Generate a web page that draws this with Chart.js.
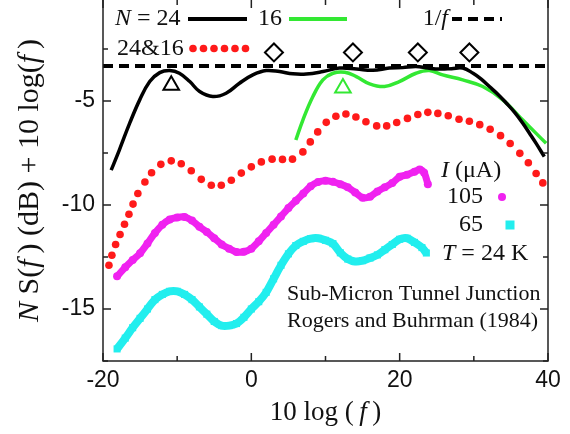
<!DOCTYPE html>
<html>
<head>
<meta charset="utf-8">
<script src="https://cdn.jsdelivr.net/npm/chart.js@4.4.1/dist/chart.umd.min.js"></script>
<style>
html, body { margin: 0; padding: 0; background: #fff; }
#c { display: block; }
</style>
</head>
<body>
<canvas id="c" width="570" height="434" style="width:570px;height:434px"></canvas>
<script>
// N = 24 curve
var xN24 = [-18.9, -17.8, -16.4, -15.05, -13.7, -12.35, -11.0, -9.7, -8.3, -6.97, -5.2, -3.4, -1.6, 0.2, 2.0, 3.8, 5.6, 7.4, 9.65, 11.9, 14.2, 16.4, 18.6, 20.4, 22.2, 23.8, 25.4, 27.0, 28.5, 29.9, 31.0, 32.1, 33.3, 34.4, 35.5, 36.6, 37.5, 38.4, 39.5];
var yN24 = [-8.33, -7.36, -6.07, -4.95, -4.07, -3.64, -3.54, -3.67, -4.07, -4.55, -4.79, -4.63, -4.15, -3.75, -3.54, -3.59, -3.70, -3.71, -3.59, -3.42, -3.47, -3.53, -3.42, -3.40, -3.35, -3.42, -3.47, -3.45, -3.42, -3.67, -3.95, -4.31, -4.70, -5.11, -5.55, -6.07, -6.55, -7.04, -7.68];

// N = 16 curve
var xN16 = [6.0, 6.95, 8.3, 9.65, 11.0, 12.6, 14.15, 15.95, 17.95, 19.95, 22.2, 24.0, 25.8, 28.5, 31.2, 33.9, 36.6, 38.4, 39.75];
var yN16 = [-6.88, -5.92, -4.79, -3.99, -3.67, -3.62, -3.83, -4.18, -4.31, -4.07, -3.67, -3.54, -3.75, -3.99, -4.31, -4.95, -5.92, -6.56, -7.04];

// 24&16 dots
var xSum = [-19.2, -18.8, -18.3, -17.7, -17.1, -16.5, -15.95, -15.3, -14.35, -13.45, -12.2, -10.8, -9.45, -8.1, -6.75, -5.4, -4.05, -2.7, -1.35, 0, 1.35, 2.8, 4.2, 5.55, 6.95, 7.95, 8.95, 10.1, 11.4, 12.75, 14.1, 15.45, 16.9, 18.25, 19.6, 21.05, 22.45, 23.8, 25.15, 26.55, 28.0, 29.4, 30.8, 32.2, 33.6, 34.9, 36.2, 37.35, 38.4, 39.3];
var ySum = [-12.9, -12.42, -11.9, -11.42, -10.93, -10.45, -9.96, -9.45, -8.9, -8.45, -8.05, -7.88, -8.02, -8.36, -8.77, -9.05, -9.05, -8.81, -8.47, -8.17, -7.93, -7.8, -7.81, -7.8, -7.45, -6.97, -6.49, -6.03, -5.74, -5.63, -5.77, -6.0, -6.2, -6.2, -6.04, -5.84, -5.65, -5.55, -5.6, -5.71, -5.88, -5.98, -6.14, -6.36, -6.67, -7.05, -7.52, -7.97, -8.49, -8.94];

// I = 105 uA
var x105 = [-18.1, -17, -16, -15, -14, -13, -12, -11, -10, -9, -8, -7, -6, -5, -4, -3, -2, -1, 0, 1, 2, 3, 4, 5, 6, 7, 8, 9, 10, 11, 12, 13, 14, 15, 16, 17, 18, 19, 20, 21, 22, 22.7, 23.3, 23.8];
var y105 = [-13.43, -13.0, -12.65, -12.32, -11.85, -11.35, -10.95, -10.7, -10.6, -10.58, -10.75, -11.05, -11.3, -11.6, -11.9, -12.1, -12.26, -12.25, -12.1, -11.75, -11.35, -10.95, -10.55, -10.15, -9.8, -9.45, -9.1, -8.9, -8.84, -8.89, -9.0, -9.15, -9.4, -9.65, -9.6, -9.35, -9.15, -8.95, -8.65, -8.55, -8.4, -8.3, -8.45, -9.0];

// I = 65 uA
var x65 = [-18.1, -17, -16, -15, -14, -13, -12, -11, -10, -9, -8, -7, -6, -5, -4, -3, -2, -1, 0, 1, 2, 3, 4, 5, 6, 7, 8, 9, 10, 11, 12, 13, 14, 15, 16, 17, 18, 19, 20, 21, 22, 23, 23.6];
var y65 = [-16.92, -16.4, -15.9, -15.45, -15.0, -14.55, -14.3, -14.15, -14.15, -14.3, -14.55, -14.9, -15.25, -15.6, -15.8, -15.8, -15.7, -15.4, -15.0, -14.65, -14.2, -13.55, -12.9, -12.35, -11.95, -11.75, -11.62, -11.6, -11.7, -11.86, -12.3, -12.6, -12.72, -12.68, -12.55, -12.4, -12.15, -11.9, -11.65, -11.6, -11.8, -12.05, -12.31];

// 1/f reference level
var xOneF = [-20, 40];
var yOneF = [-3.32, -3.32];

// markers
var xTriBlack = [-10.8], yTriBlack = [-4.25];
var xTriGreen = [12.35], yTriGreen = [-4.38];
var xDiamond = [3.05, 13.7, 22.45, 29.4];
var yDiamond = [-2.67, -2.67, -2.67, -2.67];

// axes
var xMajor = [-20, 0, 20, 40], xMinor = [-10, 10, 30];
var yMajor = [-15, -10, -5], yMinor = [-17.5, -12.5, -7.5, -2.5];

var pts = function(xs, ys) {
    return xs.map(function(x, i) { return {x: x, y: ys[i]}; });
};

var SERIF = '"Liberation Serif", "Times New Roman", serif';

// текст из кусков: обычный / курсив
function drawRuns(ctx, parts, x, y, size, align) {
    var total = 0, widths = [];
    for (var i = 0; i < parts.length; i++) {
        ctx.font = (parts[i][1] ? 'italic ' : '') + size + 'px ' + SERIF;
        widths.push(ctx.measureText(parts[i][0]).width);
        total += widths[i];
    }
    var cx = x;
    if (align === 'center') cx = x - total / 2;
    if (align === 'right') cx = x - total;
    ctx.textAlign = 'left';
    ctx.textBaseline = 'middle';
    for (var i = 0; i < parts.length; i++) {
        ctx.font = (parts[i][1] ? 'italic ' : '') + size + 'px ' + SERIF;
        ctx.fillText(parts[i][0], cx, y);
        cx += widths[i];
    }
}

var decor = {
    id: 'decor',
    afterDraw: function(chart) {
        var ctx = chart.ctx, a = chart.chartArea;
        var xs = chart.scales.x, ys = chart.scales.y;
        ctx.save();
        ctx.fillStyle = '#111';
        ctx.strokeStyle = '#222';

        // рамка (верх обрезан)
        ctx.lineWidth = 1.5;
        ctx.beginPath();
        ctx.moveTo(a.left, a.top); ctx.lineTo(a.left, a.bottom);
        ctx.lineTo(a.right, a.bottom); ctx.lineTo(a.right, a.top);
        ctx.stroke();

        // засечки внутрь
        ctx.beginPath();
        xMajor.concat(xMinor).forEach(function(v) {
            var len = xMajor.indexOf(v) >= 0 ? 8 : 5;
            var p = xs.getPixelForValue(v);
            ctx.moveTo(p, a.bottom); ctx.lineTo(p, a.bottom - len);
            ctx.moveTo(p, a.top); ctx.lineTo(p, a.top + len);
        });
        yMajor.concat(yMinor).forEach(function(v) {
            var len = yMajor.indexOf(v) >= 0 ? 8 : 5;
            var p = ys.getPixelForValue(v);
            ctx.moveTo(a.left, p); ctx.lineTo(a.left + len, p);
            ctx.moveTo(a.right, p); ctx.lineTo(a.right - len, p);
        });
        ctx.stroke();

        // подписи осей
        drawRuns(ctx, [['10 log (\u2009', false], ['f', true], ['\u2009)', false]], (a.left + a.right) / 2, 413, 27, 'center');
        ctx.save();
        ctx.translate(30, (a.top + a.bottom) / 2);
        ctx.rotate(-Math.PI / 2);
        drawRuns(ctx, [['N', true], [' S(', false], ['f', true], ['\u2009) (dB) + 10 log(', false], ['f', true], ['\u2009)', false]], 0, 0, 30, 'center');
        ctx.restore();

        // легенда сверху
        drawRuns(ctx, [['N', true], [' = 24', false]], 115, 19, 24, 'left');
        drawRuns(ctx, [['16', false]], 258, 19, 24, 'left');
        drawRuns(ctx, [['1/', false], ['f', true]], 448, 19, 24, 'right');
        drawRuns(ctx, [['24&16', false]], 117, 49, 24, 'left');

        ctx.lineWidth = 4;
        ctx.strokeStyle = '#000';
        ctx.beginPath(); ctx.moveTo(188, 19); ctx.lineTo(247, 19); ctx.stroke();
        ctx.strokeStyle = '#33e833';
        ctx.beginPath(); ctx.moveTo(289, 19); ctx.lineTo(347, 19); ctx.stroke();
        ctx.strokeStyle = '#000';
        ctx.setLineDash([10, 6]);
        ctx.beginPath(); ctx.moveTo(452, 19); ctx.lineTo(502, 19); ctx.stroke();
        ctx.setLineDash([]);
        ctx.fillStyle = '#ff1a1a';
        for (var i = 0; i < 6; i++) {
            ctx.beginPath(); ctx.arc(193 + i * 10.5, 48.5, 3.8, 0, Math.PI * 2); ctx.fill();
        }

        // легенда справа
        ctx.fillStyle = '#111';
        drawRuns(ctx, [['I', true], [' (\u03bcA)', false]], 441, 171, 24, 'left');
        drawRuns(ctx, [['105', false]], 483, 197, 24, 'right');
        drawRuns(ctx, [['65', false]], 483, 225, 24, 'right');
        drawRuns(ctx, [['T', true], [' = 24 K', false]], 442, 254, 24, 'left');
        drawRuns(ctx, [['Sub-Micron Tunnel Junction', false]], 287, 294, 22, 'left');
        drawRuns(ctx, [['Rogers and Buhrman (1984)', false]], 287, 321, 22, 'left');
        ctx.fillStyle = '#f022f0';
        ctx.beginPath(); ctx.arc(502, 197, 4, 0, Math.PI * 2); ctx.fill();
        ctx.fillStyle = '#22eeee';
        ctx.fillRect(505.5, 220.5, 9, 9);
        ctx.restore();
    }
};

var ctx = document.getElementById('c');
var myChart = new Chart(ctx, {
    type: 'scatter',
    data: {
        datasets: [
            { data: pts(xDiamond, yDiamond), pointStyle: 'rectRot', pointRadius: 9, borderWidth: 2, borderColor: '#000', backgroundColor: 'rgba(0,0,0,0)', showLine: false },
            { data: pts(xTriBlack, yTriBlack), pointStyle: 'triangle', pointRadius: 9, borderWidth: 2, borderColor: '#000', backgroundColor: 'rgba(0,0,0,0)', showLine: false },
            { data: pts(xTriGreen, yTriGreen), pointStyle: 'triangle', pointRadius: 9, borderWidth: 2, borderColor: '#33e833', backgroundColor: 'rgba(0,0,0,0)', showLine: false },
            { data: pts(xOneF, yOneF), showLine: true, borderColor: '#000', borderWidth: 4, borderDash: [10, 6], pointRadius: 0 },
            { data: pts(xN24, yN24), showLine: true, borderColor: '#000', borderWidth: 3.5, tension: 0.4, pointRadius: 0 },
            { data: pts(xN16, yN16), showLine: true, borderColor: '#33e833', borderWidth: 3.5, tension: 0.4, pointRadius: 0 },
            { data: pts(xSum, ySum), showLine: false, pointRadius: 3.8, borderWidth: 0, backgroundColor: '#ff1a1a' },
            { data: pts(x105, y105), showLine: true, borderColor: '#f022f0', borderWidth: 7, tension: 0.3, pointRadius: 4, pointBorderWidth: 0, backgroundColor: '#f022f0' },
            { data: pts(x65, y65), showLine: true, borderColor: '#22eeee', borderWidth: 8, tension: 0.3, pointStyle: 'rect', pointRadius: 5, pointBorderWidth: 0, backgroundColor: '#22eeee' }
        ]
    },
    options: {
        responsive: false,
        animation: false,
        events: [],
        layout: { autoPadding: false, padding: { top: 0, right: 22, left: 0, bottom: 0 } },
        plugins: { legend: { display: false }, tooltip: { enabled: false } },
        scales: {
            x: {
                type: 'linear', min: -20, max: 40,
                grid: { display: false, drawTicks: false },
                border: { display: false },
                afterBuildTicks: function(s) {
                    s.ticks = xMajor.concat(xMinor).sort(function(a, b) { return a - b; }).map(function(v) { return {value: v}; });
                },
                afterFit: function(s) { s.height = 73; s.paddingLeft = 0; s.paddingRight = 0; },
                ticks: {
                    padding: 6, color: '#111', maxRotation: 0, autoSkip: false,
                    font: { family: '"Liberation Sans", Arial, sans-serif', size: 23 },
                    callback: function(v) { return xMajor.indexOf(v) >= 0 ? String(v) : ''; }
                }
            },
            y: {
                type: 'linear', min: -17.5, max: -0.15,
                grid: { display: false, drawTicks: false },
                border: { display: false },
                afterBuildTicks: function(s) {
                    s.ticks = yMajor.concat(yMinor).sort(function(a, b) { return a - b; }).map(function(v) { return {value: v}; });
                },
                afterFit: function(s) { s.width = 103; s.paddingTop = 0; s.paddingBottom = 0; },
                ticks: {
                    padding: 8, color: '#111', autoSkip: false,
                    font: { family: '"Liberation Sans", Arial, sans-serif', size: 23 },
                    callback: function(v) { return yMajor.indexOf(v) >= 0 ? String(v) : ''; }
                }
            }
        }
    },
    plugins: [decor]
});
</script>
</body>
</html>
